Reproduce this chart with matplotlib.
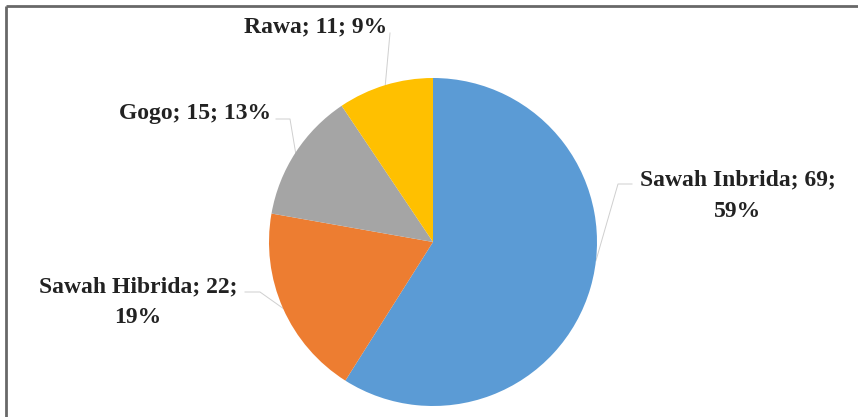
import numpy as np
import matplotlib
matplotlib.use("Agg")
import matplotlib.pyplot as plt

# Rice planting types: count per type
categories = ["Sawah Inbrida", "Sawah Hibrida", "Gogo", "Rawa"]
counts = [69, 22, 15, 11]
percents = [59, 19, 13, 9]
colors = ["#5B9BD5", "#ED7D31", "#A5A5A5", "#FFC000"]

W, H = 858, 417
fig = plt.figure(figsize=(W / 100, H / 100), dpi=100)
ax = fig.add_axes([0, 0, 1, 1])

cx, cy, r = 433, H - 242, 164
wedges, _ = ax.pie(counts, colors=colors, startangle=90, counterclock=False,
                   center=(cx, cy), radius=r, frame=True,
                   wedgeprops=dict(linewidth=0))
ax.set_xlim(0, W)
ax.set_ylim(0, H)
ax.set_aspect("equal")
ax.axis("off")

# frame lines on top and left
ax.plot([6, W], [H - 6, H - 6], color="#686868", lw=2, solid_capstyle="butt", clip_on=False)
ax.plot([6, 6], [H - 6, 0], color="#686868", lw=2, solid_capstyle="butt", clip_on=False)

font = dict(family="Liberation Serif", fontsize=17, fontweight="bold", color="#222222")

# label layout: text center x, baseline y of each line, leader path start/elbow, anchor angle offset
layout = {
    "Sawah Inbrida": dict(x=738, ys=[185, 217], wrap=True, start=(632, 184), elbow=(618, 184), off=9.6),
    "Sawah Hibrida": dict(x=138, ys=[292, 323], wrap=True, start=(245, 292), elbow=(260, 292), off=0),
    "Gogo": dict(x=195, ys=[119], wrap=False, start=(276, 119), elbow=(290, 119), off=0),
    "Rawa": dict(x=316, ys=[32], wrap=False, start=(390, 33), elbow=(390, 33), off=0),
}

for w, cat, n, p in zip(wedges, categories, counts, percents):
    L = layout[cat]
    if L["wrap"]:
        lines = [f"{cat}; {n};", f"{p}%"]
    else:
        lines = [f"{cat}; {n}; {p}%"]
    for txt, yb in zip(lines, L["ys"]):
        ax.text(L["x"], H - yb, txt, ha="center", va="baseline", **font)
    mid = np.deg2rad((w.theta1 + w.theta2) / 2 + L["off"])
    ex, ey = cx + r * np.cos(mid), cy + r * np.sin(mid)
    xs = [L["start"][0], L["elbow"][0], ex]
    ys = [H - L["start"][1], H - L["elbow"][1], ey]
    ax.plot(xs, ys, color="#cfcfcf", lw=0.7, zorder=0.5)

fig.savefig("out.png", dpi=100, facecolor="white")
